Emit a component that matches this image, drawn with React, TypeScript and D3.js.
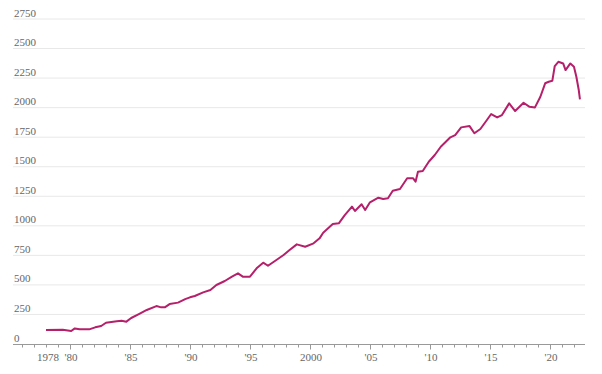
import { useMemo } from 'react';
import { scaleLinear, line, range } from 'd3';

// decimal years and index values
const years = [
  1978.0, 1979.4, 1980.1, 1980.4, 1980.8, 1981.6, 1982.1, 1982.6, 1983.0, 1983.9,
  1984.3, 1984.7, 1985.1, 1985.7, 1986.4, 1987.2, 1987.6, 1987.9, 1988.3, 1989.0,
  1989.6, 1990.0, 1990.4, 1991.1, 1991.7, 1992.2, 1992.9, 1993.5, 1994.0, 1994.4,
  1995.0, 1995.6, 1996.1, 1996.5, 1997.2, 1997.8, 1998.3, 1998.9, 1999.6, 2000.3,
  2000.8, 2001.1, 2001.9, 2002.4, 2002.9, 2003.5, 2003.75, 2004.3, 2004.6, 2005.0,
  2005.7, 2006.1, 2006.5, 2006.9, 2007.5, 2008.1, 2008.6, 2008.8, 2009.0, 2009.4,
  2009.9, 2010.4, 2010.9, 2011.7, 2012.1, 2012.6, 2013.3, 2013.7, 2014.2, 2014.7,
  2015.1, 2015.6, 2016.0, 2016.6, 2017.1, 2017.8, 2018.3, 2018.75, 2019.2, 2019.6,
  2019.9, 2020.2, 2020.4, 2020.7, 2021.1, 2021.3, 2021.7, 2022.0, 2022.2, 2022.4,
  2022.5,
];
const values = [
  118, 120, 110, 132, 124, 124, 141, 152, 180, 192,
  197, 189, 220, 251, 288, 321, 310, 310, 338, 350,
  380, 395, 406, 437, 457, 499, 533, 570, 598, 570,
  570, 646, 688, 662, 711, 753, 795, 843, 823, 852,
  894, 942, 1015, 1021, 1091, 1162, 1125, 1182, 1134, 1199,
  1238, 1227, 1233, 1297, 1311, 1402, 1402, 1373, 1458, 1464,
  1542, 1599, 1669, 1749, 1768, 1833, 1844, 1783, 1819, 1889,
  1946, 1917, 1937, 2036, 1971, 2041, 2007, 2002, 2092, 2206,
  2219, 2228, 2352, 2388, 2374, 2318, 2374, 2346, 2261, 2149,
  2070,
];

const yTicks = [0, 250, 500, 750, 1000, 1250, 1500, 1750, 2000, 2250, 2500, 2750];
const xLabelYears = [1978, 1980, 1985, 1990, 1995, 2000, 2005, 2010, 2015, 2020];
const xLabels = ['1978', "'80", "'85", "'90", "'95", '2000', "'05", "'10", "'15", "'20"];

const W = 602;
const H = 374;
const FONT = '"Liberation Serif", "Times New Roman", serif';

export default function App() {
  const x = scaleLinear().domain([1975.25, 2022.92]).range([13, 585]);
  const y = scaleLinear().domain([0, 2750]).range([344, 19]);

  const path = useMemo(() => {
    const gen = line<number>()
      .x((_, i) => x(years[i]))
      .y((d) => y(d));
    return gen(values) ?? '';
  }, []);

  const tickYears = range(1976, 2023);

  return (
    <svg
      width={W}
      height={H}
      style={{ position: 'absolute', left: 0, top: 0, background: '#fff' }}
    >
      {yTicks.map((t) => (
        <g key={t}>
          {t > 0 && (
            <line x1={13} x2={585} y1={y(t)} y2={y(t)} stroke="#e8e8e8" strokeWidth={1} />
          )}
          <text x={14} y={y(t) - 2.5} fontFamily={FONT} fontSize={11} fill="#666">
            {t}
          </text>
        </g>
      ))}

      <line x1={13} x2={585} y1={344.5} y2={344.5} stroke="#999" strokeWidth={1} />
      {tickYears.map((yr) => (
        <line
          key={yr}
          x1={Math.round(x(yr)) + 0.5}
          x2={Math.round(x(yr)) + 0.5}
          y1={344.5}
          y2={yr % 5 === 0 ? 349.5 : 347.5}
          stroke="#999"
          strokeWidth={1}
        />
      ))}
      {xLabelYears.map((yr, i) => (
        <text
          key={yr}
          x={x(yr) + (i === 0 ? 2 : 1)}
          y={361}
          textAnchor="middle"
          fontFamily={FONT}
          fontSize={11}
          fill="#666"
        >
          {xLabels[i]}
        </text>
      ))}

      <path d={path} fill="none" stroke="#b5206b" strokeWidth={2} strokeLinejoin="round" />
    </svg>
  );
}
